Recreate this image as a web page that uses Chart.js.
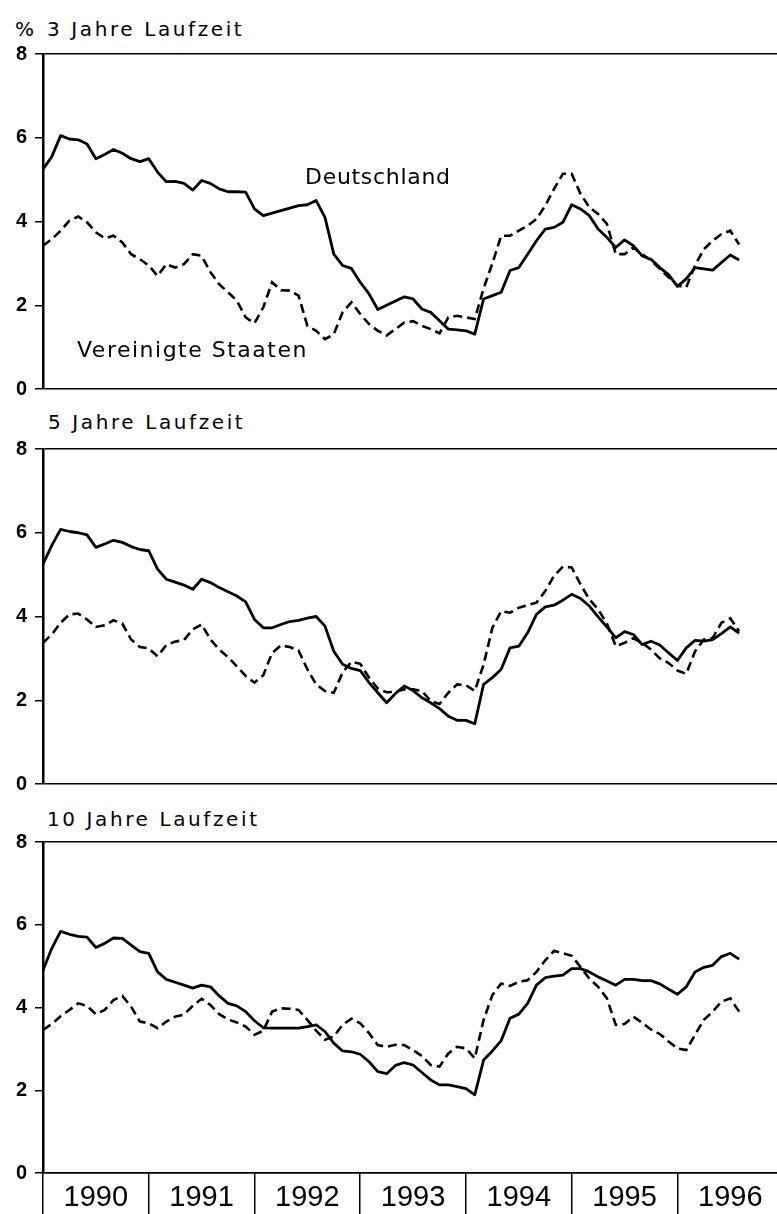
<!DOCTYPE html>
<html><head><meta charset="utf-8">
<script src="https://cdn.jsdelivr.net/npm/chart.js@4/dist/chart.umd.min.js"></script>
<style>
html,body{margin:0;padding:0;background:#fff;width:777px;height:1214px;overflow:hidden;position:relative;}
canvas{position:absolute;left:0;}
.t{position:absolute;font-family:"DejaVu Sans";color:#000;white-space:nowrap;line-height:1;}
</style></head><body>
<div class="t" style="left:15px;top:19px;font-size:20px;">%</div>
<div class="t" style="left:47px;top:19px;font-size:20px;letter-spacing:2.6px">3 Jahre Laufzeit</div>
<div class="t" style="left:48px;top:412px;font-size:20px;letter-spacing:2.6px">5 Jahre Laufzeit</div>
<div class="t" style="left:47px;top:809px;font-size:20px;letter-spacing:2.6px">10 Jahre Laufzeit</div>
<canvas id="c1" width="777" height="375" style="top:34px;width:777px;height:375px"></canvas>
<canvas id="c2" width="777" height="375" style="top:429px;width:777px;height:375px"></canvas>
<canvas id="c3" width="777" height="392" style="top:822px;width:777px;height:392px"></canvas>
<div class="t" style="left:305px;top:166px;font-size:22px;letter-spacing:0.7px">Deutschland</div>
<div class="t" style="left:77px;top:339px;font-size:22px;letter-spacing:1.5px">Vereinigte Staaten</div>
<script>
const yearLabels = ['1990','1991','1992','1993','1994','1995','1996'];
const yearStarts = [0,12,24,36,48,60,72];
const yTicks = [0,2,4,6,8];
const monthIndex = Array.from({length:80},(_,i)=>i);

const de3 = [5.25,5.55,6.05,5.97,5.95,5.85,5.5,5.6,5.72,5.63,
 5.5,5.43,5.5,5.18,4.95,4.96,4.91,4.75,4.98,4.91,
 4.78,4.71,4.71,4.7,4.3,4.14,4.2,4.26,4.32,4.38,
 4.4,4.5,4.1,3.22,2.95,2.88,2.55,2.27,1.9,2.0,
 2.1,2.2,2.15,1.91,1.83,1.63,1.43,1.41,1.39,1.31,
 2.15,2.23,2.31,2.83,2.9,3.22,3.54,3.82,3.86,3.98,
 4.4,4.3,4.14,3.82,3.62,3.38,3.56,3.42,3.18,3.1,
 2.9,2.73,2.45,2.63,2.9,2.87,2.84,3.02,3.2,3.08];
const us3 = [3.42,3.58,3.78,4.02,4.12,3.98,3.74,3.6,3.66,3.5,
 3.22,3.1,2.95,2.7,2.98,2.9,2.98,3.22,3.18,2.79,
 2.5,2.31,2.11,1.71,1.57,1.95,2.55,2.36,2.35,2.23,
 1.51,1.39,1.19,1.31,1.83,2.07,1.79,1.55,1.39,1.28,
 1.43,1.59,1.62,1.51,1.43,1.33,1.71,1.75,1.71,1.67,
 2.4,3.0,3.66,3.66,3.78,3.9,4.06,4.38,4.78,5.14,
 5.14,4.66,4.34,4.18,3.94,3.22,3.22,3.38,3.22,3.07,
 2.87,2.67,2.47,2.43,2.95,3.34,3.54,3.7,3.78,3.45];
const de5 = [5.25,5.7,6.08,6.03,6.0,5.95,5.65,5.73,5.82,5.77,
 5.67,5.6,5.57,5.13,4.89,4.82,4.75,4.65,4.89,4.81,
 4.69,4.59,4.49,4.35,3.93,3.73,3.73,3.81,3.88,3.91,
 3.96,4.0,3.77,3.17,2.86,2.76,2.71,2.42,2.18,1.94,
 2.16,2.34,2.23,2.06,1.94,1.8,1.62,1.52,1.52,1.44,
 2.38,2.54,2.74,3.25,3.29,3.61,4.05,4.23,4.27,4.39,
 4.53,4.43,4.25,3.99,3.75,3.49,3.64,3.57,3.33,3.41,
 3.32,3.13,2.95,3.25,3.43,3.41,3.45,3.59,3.75,3.6];
const us5 = [3.37,3.57,3.85,4.05,4.07,3.93,3.75,3.79,3.91,3.83,
 3.45,3.27,3.24,3.05,3.32,3.4,3.44,3.69,3.81,3.45,
 3.21,3.03,2.81,2.58,2.42,2.6,3.13,3.31,3.27,3.19,
 2.74,2.38,2.22,2.18,2.66,2.92,2.87,2.54,2.28,2.19,
 2.2,2.26,2.26,2.22,1.98,1.91,2.18,2.38,2.36,2.22,
 2.85,3.73,4.13,4.09,4.21,4.27,4.33,4.61,4.97,5.19,
 5.17,4.77,4.41,4.17,3.83,3.29,3.37,3.48,3.37,3.21,
 3.0,2.89,2.71,2.63,3.17,3.45,3.49,3.85,3.96,3.65];
const de10 = [4.9,5.43,5.84,5.77,5.72,5.7,5.45,5.55,5.68,5.67,
 5.51,5.35,5.31,4.86,4.68,4.61,4.54,4.47,4.54,4.5,
 4.28,4.1,4.04,3.9,3.68,3.51,3.5,3.5,3.5,3.5,
 3.54,3.58,3.42,3.14,2.95,2.93,2.87,2.69,2.45,2.4,
 2.6,2.67,2.61,2.43,2.25,2.13,2.13,2.09,2.04,1.89,
 2.73,2.95,3.2,3.74,3.84,4.1,4.54,4.72,4.76,4.78,
 4.94,4.94,4.86,4.74,4.64,4.54,4.68,4.68,4.65,4.65,
 4.57,4.44,4.32,4.5,4.86,4.97,5.02,5.23,5.31,5.17];
const us10 = [3.46,3.6,3.79,3.94,4.1,4.04,3.84,3.94,4.18,4.28,
 4.02,3.66,3.62,3.5,3.66,3.78,3.83,4.04,4.21,4.06,
 3.84,3.71,3.64,3.54,3.34,3.44,3.9,3.98,3.97,3.94,
 3.7,3.44,3.22,3.3,3.58,3.73,3.62,3.38,3.09,3.05,
 3.1,3.09,2.97,2.83,2.61,2.57,2.89,3.05,3.01,2.77,
 3.7,4.3,4.58,4.52,4.62,4.66,4.86,5.14,5.37,5.31,
 5.25,4.98,4.7,4.5,4.22,3.58,3.6,3.78,3.63,3.47,
 3.36,3.18,3.01,2.97,3.34,3.7,3.9,4.14,4.22,3.9];

const X_MAX = 83.3;

function makeChart(id, de, us, showX){
  const toPts = arr => arr.map((v,i)=>({x:monthIndex[i], y:v}));
  return new Chart(document.getElementById(id), {
    type:'line',
    data:{datasets:[
      {label:'Deutschland', data:toPts(de), borderColor:'#000', borderWidth:2.8, pointRadius:0, tension:0, fill:false, borderJoinStyle:'round'},
      {label:'Vereinigte Staaten', data:toPts(us), borderColor:'#000', borderWidth:2.6, borderDash:[9,5], pointRadius:0, tension:0, fill:false}
    ]},
    options:{
      responsive:false, animation:false, devicePixelRatio:1,
      layout:{padding:{top:15, bottom: showX?0:15, left:0, right:0}},
      plugins:{legend:{display:false}, tooltip:{enabled:false}},
      scales:{
        x:{type:'linear', min:0, max:X_MAX, display:showX,
          afterBuildTicks(s){ s.ticks = yearStarts.map(v=>({value:v})); },
          afterFit(s){ if (showX) s.height = 41; },
          grid:{drawOnChartArea:false, color:'#000', lineWidth:1.5, tickLength:41, tickColor:'#000', tickWidth:1.5},
          border:{display:true, color:'#000', width:1.5},
          ticks:{autoSkip:false, maxRotation:0, minRotation:0, padding:-33, labelOffset:6*734/X_MAX,
            color:'#000', font:{family:'Liberation Sans', size:29},
            callback:(v,i)=>yearLabels[i]}
        },
        y:{min:0, max:8,
          afterFit(s){ s.width = 43; },
          afterBuildTicks(s){ s.ticks = yTicks.map(v=>({value:v})); },
          ticks:{color:'#000', padding:8, font:{family:"'Liberation Sans Narrow','Liberation Sans'", size:20, weight:'bold'}},
          grid:{color:c=>(c.tick && (c.tick.value===0 || c.tick.value===8)) ? '#000' : 'rgba(0,0,0,0)',
            lineWidth:1.5, tickLength:8, tickColor:'#000', tickWidth:1.5},
          border:{display:true, color:'#000', width:2.5}
        }
      }
    }
  });
}
makeChart('c1', de3, us3, false);
makeChart('c2', de5, us5, false);
makeChart('c3', de10, us10, true);
</script>
</body></html>
